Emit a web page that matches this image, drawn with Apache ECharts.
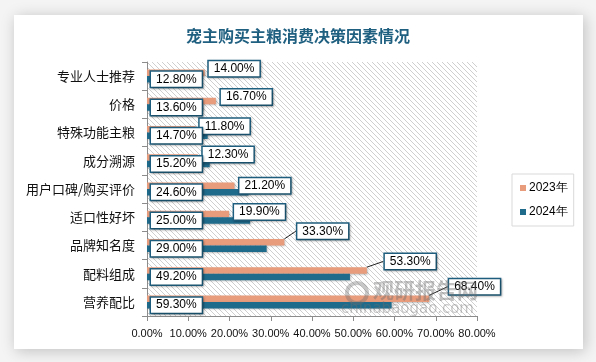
<!DOCTYPE html>
<html>
<head>
<meta charset="utf-8">
<script src="https://cdn.jsdelivr.net/npm/echarts@6/dist/echarts.min.js"></script>
<style>
html,body{margin:0;padding:0;background:#f4f4f4;}
#c{width:596px;height:362px;}
</style>
</head>
<body>
<div id="c"></div>
<script>
// Data (categories listed bottom to top, as the category axis draws them)
const categories = ['营养配比','配料组成','品牌知名度','适口性好坏','用户口碑/购买评价','成分溯源','特殊功能主粮','价格','专业人士推荐'];
const series2023 = [68.4, 53.3, 33.3, 19.9, 21.2, 12.3, 11.8, 16.7, 14.0];
const series2024 = [59.3, 49.2, 29.0, 25.0, 24.6, 15.2, 14.7, 13.6, 12.8];
const seriesNames = ['2023年','2024年'];
const xTicks = [0, 10, 20, 30, 40, 50, 60, 70, 80];

const ORANGE = '#E99C7C';
const BLUE = '#1F6B8C';
const BORDER = '#1F5F7F';

// hatch pattern for plot background
const pc = document.createElement('canvas');
pc.width = 5; pc.height = 5;
const pctx = pc.getContext('2d');
pctx.fillStyle = '#ffffff';
pctx.fillRect(0,0,5,5);
pctx.strokeStyle = '#cfcfcf';
pctx.lineWidth = 1;
pctx.beginPath();
pctx.moveTo(-1,-1); pctx.lineTo(6,6);
pctx.moveTo(-1,4); pctx.lineTo(1,6);
pctx.moveTo(4,-1); pctx.lineTo(6,1);
pctx.stroke();

// label placement tweaks for 2023 labels, by category index
const orangeMoves = {
  0: {dx: 16, dy: -12, line: true},
  1: {dx: 14, dy: -9, line: true},
  2: {dx: 9, dy: -11, line: true},
  3: {dx: 1, dy: -2},
  4: {dx: 1, dy: 0},
  5: {dx: 1, dy: -3},
  6: {dx: 0, dy: -3},
  7: {dx: 1, dy: -4},
  8: {dx: 0, dy: -4}
};

const boxLabel = {
  show: true,
  formatter: p => p.value.toFixed(2) + '%',
  fontFamily: 'Liberation Sans',
  fontSize: 12,
  color: '#000',
  backgroundColor: '#fff',
  borderColor: BORDER,
  borderWidth: 1.5,
  padding: [2, 5, 1, 5],
  shadowColor: 'rgba(0,0,0,0.25)',
  shadowBlur: 2,
  shadowOffsetX: 1,
  shadowOffsetY: 1
};

const barShadow = {shadowColor: 'rgba(0,0,0,0.25)', shadowBlur: 2, shadowOffsetX: 1, shadowOffsetY: 1};

const chart = echarts.init(document.getElementById('c'), null, {renderer: 'canvas'});
chart.setOption({
  animation: false,
  graphic: [
    {type: 'rect', z: -100, shape: {x: 14, y: 15, width: 569, height: 334},
     style: {fill: '#fff', shadowBlur: 14, shadowColor: 'rgba(0,0,0,0.22)', shadowOffsetX: 2, shadowOffsetY: 2}},
    {type: 'text', z: 50, left: 373, top: 280,
     style: {text: '观研报告网', font: 'bold 21px "Noto Sans CJK SC"', fill: 'rgba(110,110,110,0.42)'}},
    {type: 'text', z: 50, left: 341, top: 302,
     style: {text: 'chinabaogao.com', font: '15px "DejaVu Sans"', fill: 'rgba(110,110,110,0.38)'}},
    {type: 'circle', z: 50, shape: {cx: 357, cy: 293, r: 10},
     style: {fill: 'none', stroke: 'rgba(110,110,110,0.38)', lineWidth: 4}}
  ],
  title: {
    text: '宠主购买主粮消费决策因素情况',
    left: 'center',
    top: 23,
    textStyle: {fontFamily: 'Noto Sans CJK SC', fontSize: 16, fontWeight: 'bold', color: '#1F5F80'}
  },
  legend: {
    orient: 'vertical',
    left: 512,
    top: 174,
    data: seriesNames,
    itemWidth: 6,
    itemHeight: 6,
    itemGap: 12,
    padding: [8, 6, 8, 8],
    borderColor: '#d9d9d9',
    borderWidth: 1,
    icon: 'rect',
    textStyle: {fontFamily: 'Liberation Sans', fontSize: 12, color: '#000', padding: [0,0,0,-2]}
  },
  grid: {
    left: 147, right: 119, top: 62, bottom: 46,
    show: true,
    borderWidth: 0,
    backgroundColor: {image: pc, repeat: 'repeat'}
  },
  xAxis: {
    type: 'value',
    min: xTicks[0],
    max: xTicks[xTicks.length - 1],
    interval: 10,
    axisLine: {show: true, lineStyle: {color: '#8c8c8c'}},
    axisTick: {show: true, length: 5, lineStyle: {color: '#8c8c8c'}},
    splitLine: {show: false},
    axisLabel: {formatter: v => v.toFixed(2) + '%', fontFamily: 'Liberation Sans', fontSize: 11, color: '#111', margin: 12}
  },
  yAxis: {
    type: 'category',
    data: categories,
    axisLine: {show: true, lineStyle: {color: '#8c8c8c'}},
    axisTick: {show: true, length: 5, lineStyle: {color: '#8c8c8c'}},
    axisLabel: {fontFamily: 'Noto Sans CJK SC', fontSize: 13, color: '#111', margin: 12}
  },
  series: [
    {
      name: seriesNames[0],
      type: 'bar',
      data: series2023.map((v, i) => orangeMoves[i].line ? v : {value: v, labelLine: {show: false}}),
      barWidth: 6.5,
      barGap: '0%',
      itemStyle: Object.assign({color: ORANGE}, barShadow),
      label: Object.assign({}, boxLabel, {position: 'right', distance: 4}),
      labelLine: {show: true, lineStyle: {color: '#222', width: 1}},
      labelLayout: p => ({dx: orangeMoves[p.dataIndex].dx, dy: orangeMoves[p.dataIndex].dy}),
      z: 2
    },
    {
      name: seriesNames[1],
      type: 'bar',
      data: series2024,
      barWidth: 6.5,
      barGap: '0%',
      itemStyle: Object.assign({color: BLUE}, barShadow),
      label: Object.assign({}, boxLabel, {position: 'insideLeft', distance: 4}),
      z: 2
    }
  ],
  color: [ORANGE, BLUE]
});
</script>
</body>
</html>
